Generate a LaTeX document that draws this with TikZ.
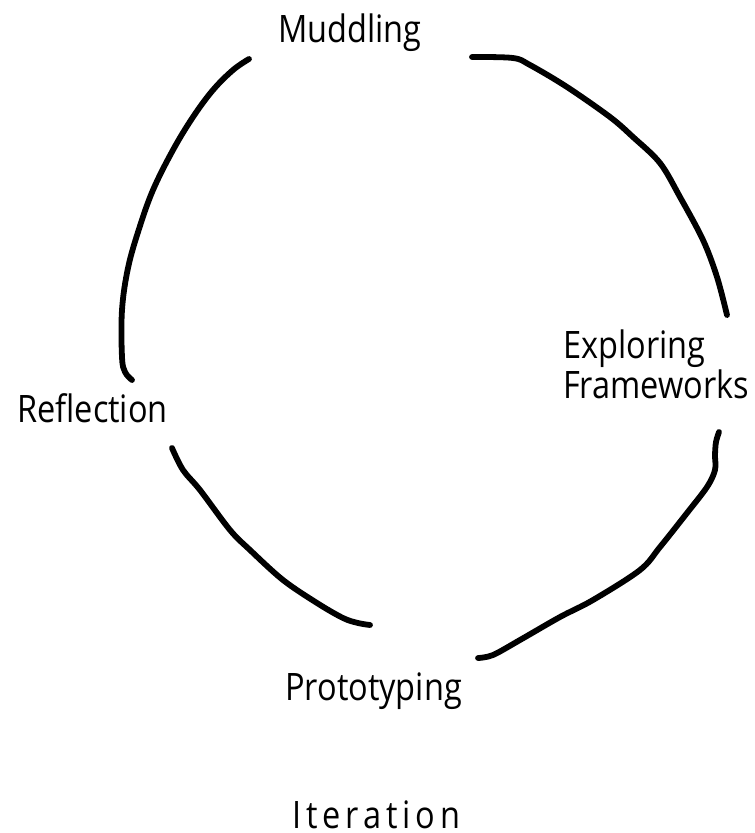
\documentclass[tikz,border=0pt]{standalone}
\usepackage{fontspec}
\setmainfont[FakeStretch=0.86]{Open Sans}
\newfontfamily\spacedfont[FakeStretch=0.86,LetterSpace=13]{Open Sans}
\begin{document}
\begin{tikzpicture}[x=1pt,y=-1pt,
  stagelabel/.style={inner sep=0pt, font=\fontsize{37.8}{40}\selectfont},
  titlelabel/.style={inner sep=0pt, font=\spacedfont\fontsize{37.8}{40}\selectfont},
  penstroke/.style={line width=5.8pt, line cap=round, line join=round, black}]
  \useasboundingbox (0,0) rectangle (755,833);

  % stage labels
  \node[stagelabel, anchor=base] (mud) at (350,42) {Muddling};
  \node[stagelabel, anchor=base west, align=left] (expl) at (563,398) {Exploring\\Frameworks};
  \node[stagelabel, anchor=base west] (refl) at (17,422) {Reflection};
  \node[stagelabel, anchor=base west] (proto) at (285,700) {Prototyping};
  \node[titlelabel, anchor=base west] (iter) at (292,828) {Iteration};

  % free ends of the hand-drawn arcs
  \coordinate (a1) at (249,59);   \coordinate (b1) at (132,380);
  \coordinate (a2) at (472,57);   \coordinate (b2) at (727,315);
  \coordinate (a3) at (719,432);  \coordinate (b3) at (478,658);
  \coordinate (a4) at (172,448);  \coordinate (b4) at (370,625);

  % Muddling -> Reflection
  \draw[penstroke] plot[smooth, tension=0.6] coordinates {(a1) (233,70) (213,90) (193,117) (173,150) (153,190) (139,229) (128,268) (122,310) (122,357) (125,372) (b1)};
  % Muddling -> Exploring Frameworks
  \draw[penstroke] plot[smooth, tension=0.55] coordinates {(a2) (513,58) (530,65) (567,87) (610,117) (633,137) (660,163) (680,197) (703,240) (717,277) (b2)};
  % Exploring Frameworks -> Prototyping
  \draw[penstroke] plot[smooth, tension=0.55] coordinates {(a3) (716,442) (715,455) (715,470) (707,487) (687,513) (660,547) (640,570) (593,600) (560,617) (520,640) (493,655) (b3)};
  % Reflection -> Prototyping
  \draw[penstroke] plot[smooth, tension=0.55] coordinates {(a4) (183,470) (200,490) (230,530) (250,550) (283,580) (317,603) (343,618) (358,623) (b4)};
\end{tikzpicture}
\end{document}
